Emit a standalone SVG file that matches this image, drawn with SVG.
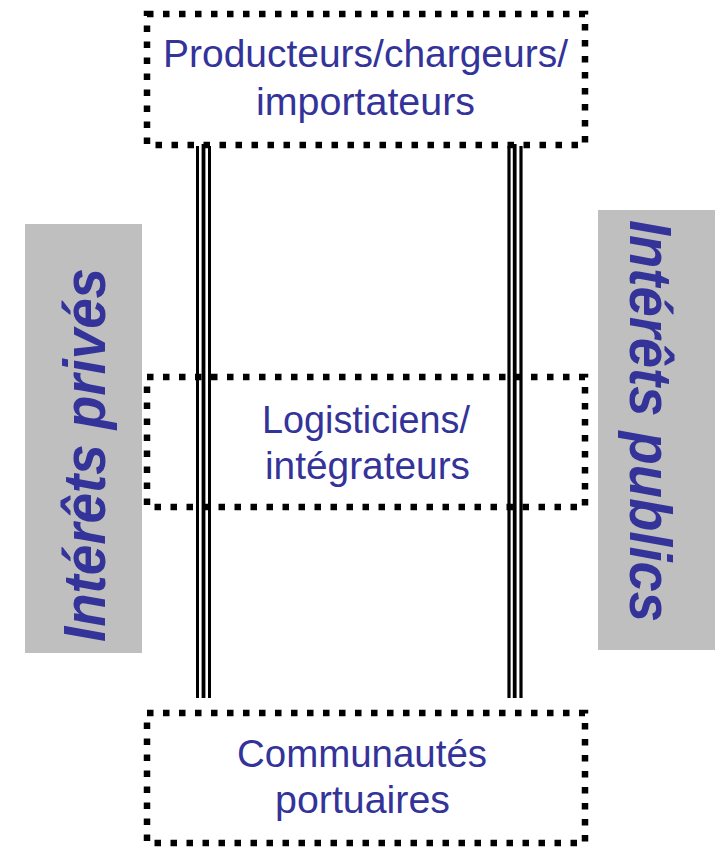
<svg xmlns="http://www.w3.org/2000/svg" width="717" height="847" viewBox="0 0 717 847">
<style>
.box{fill:none;stroke:#000;stroke-width:6.5;stroke-dasharray:6.5 9.5}
.lbl{font-family:"Liberation Sans",Arial,sans-serif;font-size:38px;fill:#333399;text-anchor:middle}
.side{font-family:"Liberation Sans",Arial,sans-serif;font-size:59px;font-weight:bold;font-style:italic;fill:#333399;text-anchor:middle}
.panel{fill:#bfbfbf}
.ln{stroke:#000;fill:none}
</style>
<rect width="717" height="847" fill="#fff"/>
<g id="prives">
<rect class="panel" x="25" y="224" width="117" height="429"/>
<text class="side" transform="translate(105,455) rotate(-90)" textLength="374" lengthAdjust="spacingAndGlyphs">Intérêts privés</text>
</g>
<g id="publics">
<rect class="panel" x="598" y="210" width="117" height="440"/>
<text class="side" transform="translate(630,421) rotate(90)" textLength="402" lengthAdjust="spacingAndGlyphs">Intérêts publics</text>
</g>
<g id="producteurs">
<rect class="box" x="147" y="14" width="438" height="131"/>
<text class="lbl" x="365.5" y="67" textLength="405" lengthAdjust="spacingAndGlyphs">Producteurs/chargeurs/</text>
<text class="lbl" x="365.5" y="115" textLength="219" lengthAdjust="spacingAndGlyphs">importateurs</text>
</g>
<g id="logisticiens">
<rect class="box" x="147" y="377" width="438" height="130"/>
<text class="lbl" x="366" y="433" textLength="208" lengthAdjust="spacingAndGlyphs">Logisticiens/</text>
<text class="lbl" x="367.5" y="479" textLength="205" lengthAdjust="spacingAndGlyphs">intégrateurs</text>
</g>
<g id="communautes">
<rect class="box" x="147" y="713" width="438" height="130"/>
<text class="lbl" x="362" y="767" textLength="250" lengthAdjust="spacingAndGlyphs">Communautés</text>
<text class="lbl" x="362.5" y="813" textLength="175" lengthAdjust="spacingAndGlyphs">portuaires</text>
</g>
<g id="connectors">
<line class="ln" x1="197.5" y1="146" x2="197.5" y2="698" stroke-width="3"/>
<line class="ln" x1="203.5" y1="144" x2="203.5" y2="698" stroke-width="3.8"/>
<line class="ln" x1="209.5" y1="146" x2="209.5" y2="698" stroke-width="3"/>
<line class="ln" x1="509" y1="146" x2="509" y2="698" stroke-width="3.2"/>
<line class="ln" x1="514.7" y1="144" x2="514.7" y2="698" stroke-width="3.8"/>
<line class="ln" x1="521" y1="146" x2="521" y2="698" stroke-width="3.2"/>
</g>
</svg>
